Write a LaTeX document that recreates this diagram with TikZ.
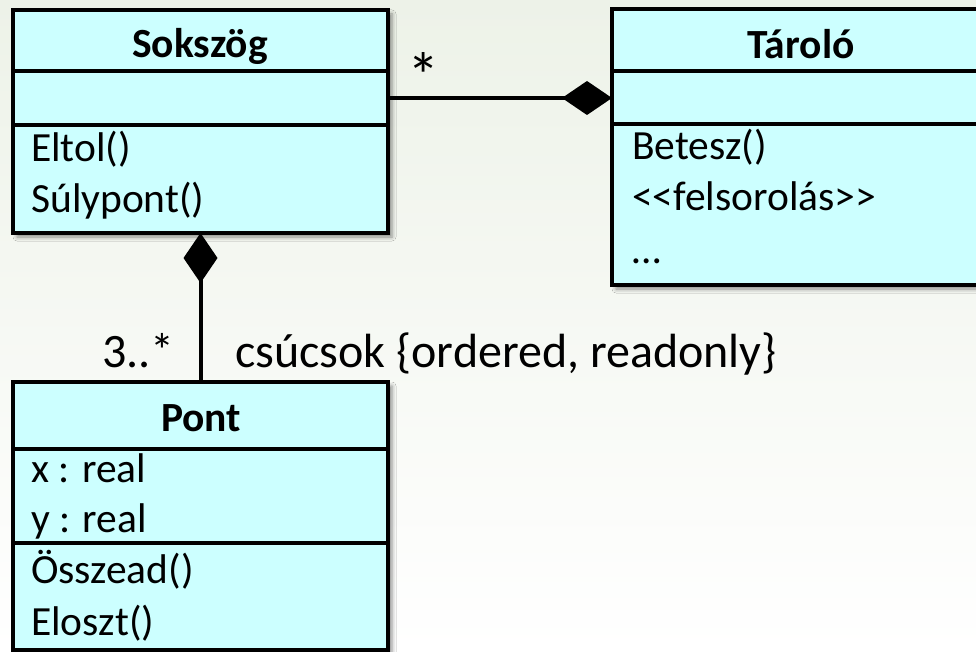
\documentclass[tikz,border=0pt]{standalone}
\usepackage{fontspec}
\setmainfont{Carlito}
\newfontfamily\calib{Carlito}
\usetikzlibrary{arrows.meta,shadows.blur}
\definecolor{boxfill}{HTML}{CCFFFF}
\definecolor{bgtop}{HTML}{EDF2E8}
\begin{document}
\begin{tikzpicture}[x=1pt,y=-1pt,
  classbox/.style={draw=black, line width=4pt, fill=boxfill, outer sep=0pt, inner sep=0pt, anchor=north west,
    blur shadow={shadow xshift=4pt, shadow yshift=-4pt, shadow blur radius=4pt, shadow opacity=45}},
  divider/.style={line width=3.5pt},
  ctext/.style={font=\calib\fontsize{41.5}{50}\selectfont, inner sep=0pt, anchor=base west},
  ctitle/.style={font=\calib\fontsize{41.5}{50}\selectfont\bfseries, inner sep=0pt, anchor=base},
  lbl/.style={font=\calib\fontsize{48}{56}\selectfont, inner sep=0pt},
  comp/.style={line width=4pt, -{Diamond[length=50pt,width=34pt]}}
]
\useasboundingbox (0,0) rectangle (976,652);
\clip (0,0) rectangle (976,652);
\shade[top color=bgtop, bottom color=white] (0,0) rectangle (976,652);

% Sokszog
\node[classbox, minimum width=375pt, minimum height=223pt] (sok) at (13,10) {};
\draw[divider] (sok.west |- 0,71) -- (sok.east |- 0,71);
\draw[divider] (sok.west |- 0,125) -- (sok.east |- 0,125);
\node[ctitle] (sokT) at (200,58) {Sokszög};
\node[ctext] (sok1) at (31,162) {Eltol()};
\node[ctext] (sok2) at (31,213) {Súlypont()};

% Taroló
\node[classbox, minimum width=378pt, minimum height=276pt] (tar) at (612,9) {};
\draw[divider] (tar.west |- 0,71) -- (tar.east |- 0,71);
\draw[divider] (tar.west |- 0,124) -- (tar.east |- 0,124);
\node[ctitle] (tarT) at (801,59) {Tároló};
\node[ctext] (tar1) at (632,160) {Betesz()};
\node[ctext] (tar2) at (632,211) {<<felsorolás>>};
\node[ctext] (tar3) at (632,263) {…};

% Pont
\node[classbox, minimum width=375pt, minimum height=268pt] (pont) at (13,382) {};
\draw[divider] (pont.west |- 0,449) -- (pont.east |- 0,449);
\draw[divider] (pont.west |- 0,543) -- (pont.east |- 0,543);
\node[ctitle] (pontT) at (201,431) {Pont};
\node[ctext] (pont1) at (31,482) {x : real};
\node[ctext] (pont2) at (31,532) {y : real};
\node[ctext] (pont3) at (31,583) {Összead()};
\node[ctext] (pont4) at (31,635) {Eloszt()};

% connectors
\coordinate (hc) at (0,98);
\draw[comp] (sok.east |- hc) -- (tar.west |- hc);
\draw[comp] (pont.north) -- (sok.south);

% labels
\node[lbl, anchor=base, scale=1.35] (star) at (424,99) {*};
\node[lbl, anchor=base east] (mult) at (175,367) {3..*};
\node[lbl, anchor=base west] (role) at (235,367) {csúcsok \{ordered, readonly\}};
\end{tikzpicture}
\end{document}
